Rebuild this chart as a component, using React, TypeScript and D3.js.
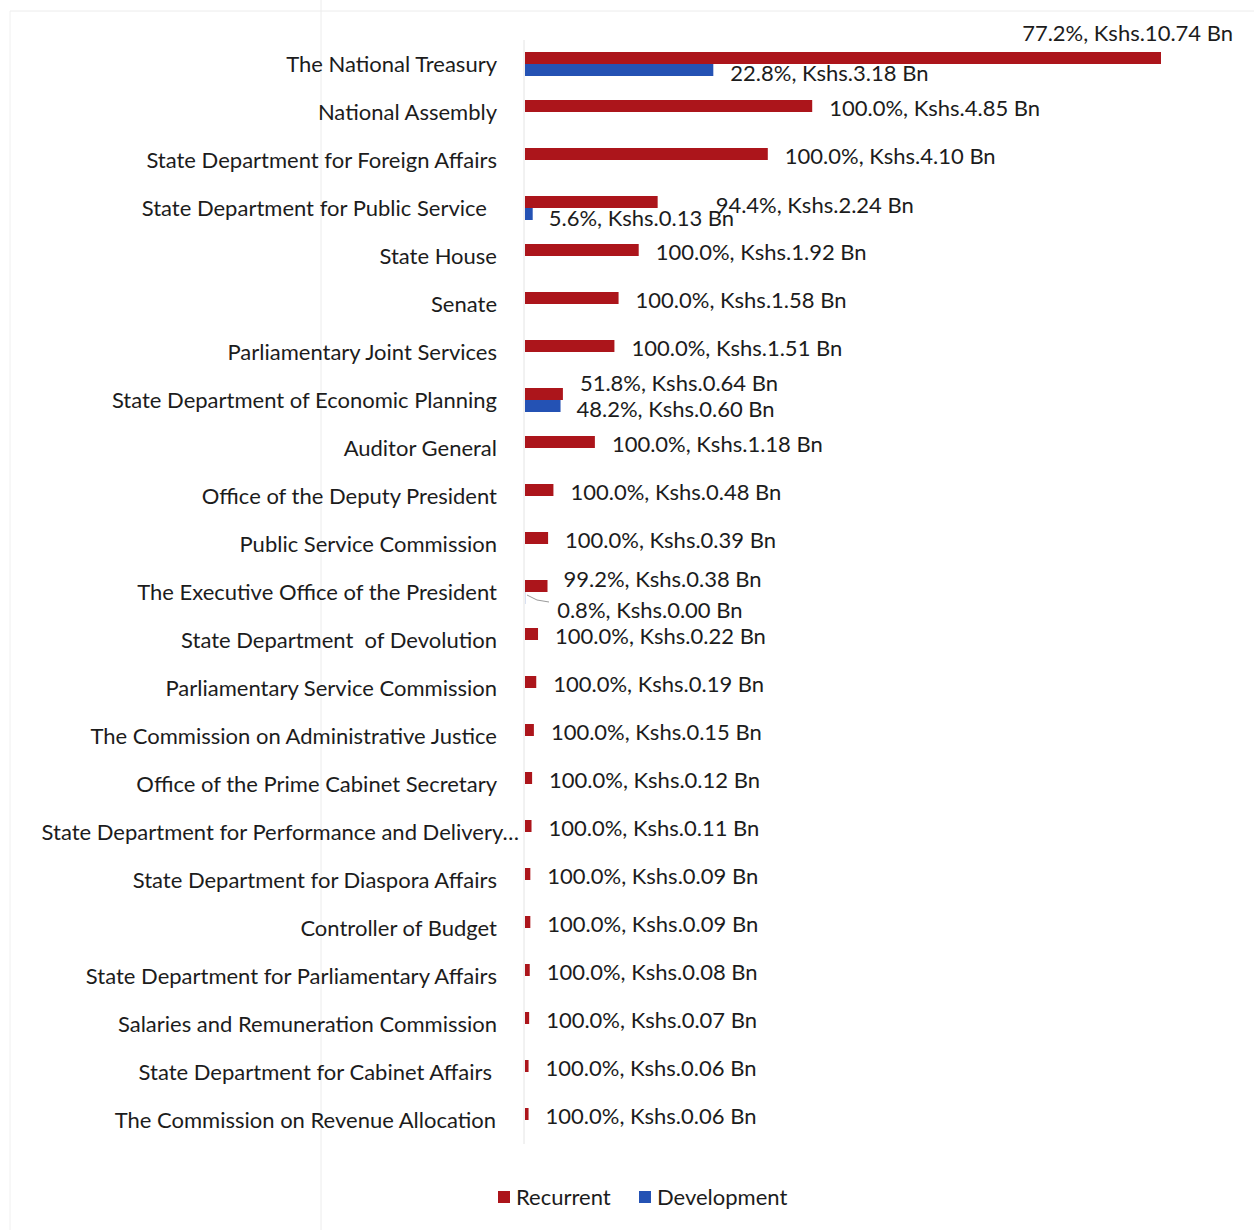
import React from "react";
import * as d3 from "d3";

const categories = [
  "The National Treasury",
  "National Assembly",
  "State Department for Foreign Affairs",
  "State Department for Public Service",
  "State House",
  "Senate",
  "Parliamentary Joint Services",
  "State Department of Economic Planning",
  "Auditor General",
  "Office of the Deputy President",
  "Public Service Commission",
  "The Executive Office of the President",
  "State Department  of Devolution",
  "Parliamentary Service Commission",
  "The Commission on Administrative Justice",
  "Office of the Prime Cabinet Secretary",
  "State Department for Performance and Delivery…",
  "State Department for Diaspora Affairs",
  "Controller of Budget",
  "State Department for Parliamentary Affairs",
  "Salaries and Remuneration Commission",
  "State Department for Cabinet Affairs",
  "The Commission on Revenue Allocation",
];

const recurrent = [10.74, 4.85, 4.10, 2.24, 1.92, 1.58, 1.51, 0.64, 1.18, 0.48, 0.39, 0.38, 0.22, 0.19, 0.15, 0.12, 0.11, 0.09, 0.09, 0.08, 0.07, 0.06, 0.06];
const recurrentPct = [77.2, 100, 100, 94.4, 100, 100, 100, 51.8, 100, 100, 100, 99.2, 100, 100, 100, 100, 100, 100, 100, 100, 100, 100, 100];
const development = [3.18, 0, 0, 0.13, 0, 0, 0, 0.60, 0, 0, 0, 0.003, 0, 0, 0, 0, 0, 0, 0, 0, 0, 0, 0];
const developmentPct = [22.8, 0, 0, 5.6, 0, 0, 0, 48.2, 0, 0, 0, 0.8, 0, 0, 0, 0, 0, 0, 0, 0, 0, 0, 0];

const seriesNames = ["Recurrent", "Development"];
const colors = ["#AC151B", "#2452B4"];

// label placement tweaks (relative to bar end / bar centre)
const recLabelAdjust: Record<number, { dx: number; dy: number; anchor?: string }> = {
  0: { dx: 72, dy: -26, anchor: "end" },
  3: { dx: 58, dy: 2 },
  7: { dx: 17, dy: -12 },
  11: { dx: 16, dy: -8 },
};
const devLabelAdjust: Record<number, { dx: number; dy: number }> = {
  0: { dx: 17, dy: 2 },
  3: { dx: 16, dy: 3 },
  7: { dx: 16, dy: 2 },
  11: { dx: 32, dy: 11 },
};
const catLabelShift: Record<number, number> = { 3: -10, 16: 22, 21: -5, 22: -1 };

const FONT = "Lato, 'Open Sans', sans-serif";
const FS = 22;

export default function App() {
  const W = 1254, H = 1230;
  const x0 = 525;
  const x = d3.scaleLinear().domain([0, d3.max(recurrent) as number]).range([x0, 1161]);
  const y = d3.scaleBand<string>().domain(categories).range([40, 1144]).paddingInner(0.5).paddingOuter(0.25);
  const ys = d3.scaleBand<string>().domain(seriesNames).range([0, y.bandwidth()]);
  const fmt = (v: number) => v.toFixed(2);
  const textColor = "#1c1c1c";

  return (
    <svg width={W} height={H} style={{ position: "absolute", left: 0, top: 0, background: "#fff" }} fontFamily={FONT}>
      <rect x={0} y={0} width={W} height={H} fill="#fff" />
      {/* faint page artefacts */}
      <line x1={10} x2={W} y1={11} y2={11} stroke="#ececec" strokeWidth={1} />
      <line x1={10} x2={10} y1={11} y2={H} stroke="#f0f0f0" strokeWidth={1} />
      <line x1={321} x2={321} y1={0} y2={H} stroke="#ececec" strokeWidth={1} />
      {/* axis line */}
      <line x1={x0 - 1} x2={x0 - 1} y1={40} y2={1144} stroke="#e4e4e4" strokeWidth={1} />

      {categories.map((c, i) => {
        const yb = y(c) as number;
        const yr = yb + (ys("Recurrent") as number);
        const yd = yb + (ys("Development") as number);
        const bh = ys.bandwidth();
        const ra = recLabelAdjust[i] || { dx: 17, dy: 1.5 };
        const da = devLabelAdjust[i];
        return (
          <g key={c}>
            <text
              x={497 + (catLabelShift[i] || 0)}
              y={yb + y.bandwidth() / 2 - 1}
              textAnchor="end"
              dominantBaseline="central"
              fontSize={FS}
              fill={textColor}
              style={{ whiteSpace: "pre" }}
            >
              {c}
            </text>
            <rect x={x0} y={yr} width={x(recurrent[i]) - x0} height={bh} fill={colors[0]} />
            {development[i] > 0 && (
              <rect x={x0} y={yd} width={Math.max(0, x(development[i]) - x0)} height={bh} fill={colors[1]} />
            )}
            <text
              x={x(recurrent[i]) + ra.dx}
              y={yr + bh / 2 + ra.dy}
              textAnchor={ra.anchor || "start"}
              dominantBaseline="central"
              fontSize={FS}
              fill={textColor}
            >
              {`${recurrentPct[i].toFixed(1)}%, Kshs.${fmt(recurrent[i])} Bn`}
            </text>
            {da && (
              <text
                x={x(development[i]) + da.dx}
                y={yd + bh / 2 + da.dy}
                dominantBaseline="central"
                fontSize={FS}
                fill={textColor}
              >
                {`${developmentPct[i].toFixed(1)}%, Kshs.${fmt(development[i])} Bn`}
              </text>
            )}
            {i === 11 && (
              <polyline
                points={`${x0 + 2},${yd + 3} ${x0 + 12},${yd + 8} ${x0 + 24},${yd + 10}`}
                fill="none"
                stroke="#9a9a9a"
                strokeWidth={1}
              />
            )}
          </g>
        );
      })}

      {/* legend */}
      {seriesNames.map((s, i) => {
        const lx = [498, 639][i];
        return (
          <g key={s}>
            <rect x={lx} y={1191} width={12} height={12} fill={colors[i]} />
            <text x={lx + 18} y={1196} dominantBaseline="central" fontSize={FS} fill={textColor}>
              {s}
            </text>
          </g>
        );
      })}
    </svg>
  );
}
